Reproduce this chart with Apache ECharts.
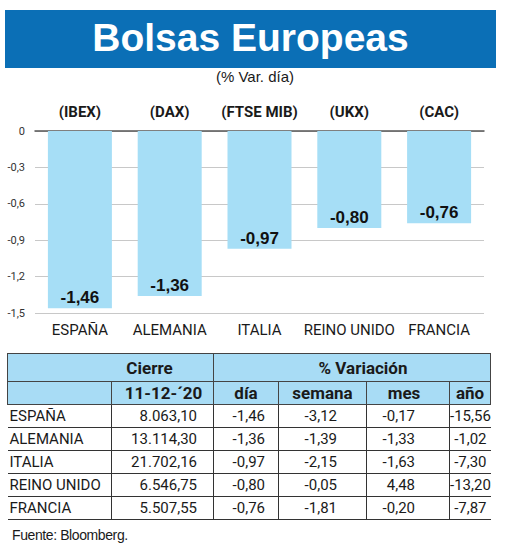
<!DOCTYPE html>
<html><head><meta charset="utf-8">
<script src="https://cdn.jsdelivr.net/npm/echarts@6/dist/echarts.min.js"></script>
<style>
body{margin:0;background:#fff;width:520px;height:547px;overflow:hidden;position:relative;font-family:'Liberation Sans',Arial,sans-serif;color:#1a1a1a;}
#banner{position:absolute;left:5px;top:10px;width:491px;height:58px;background:#0b6fb6;color:#fff;font-weight:bold;font-size:39px;text-align:center;line-height:56px;}
#sub{position:absolute;left:155px;width:200px;top:68px;text-align:center;font-size:15px;line-height:18px;}
#chart{position:absolute;left:0;top:0;width:520px;height:345px;}
#tbl{position:absolute;left:7px;top:353px;border-collapse:collapse;table-layout:fixed;width:483px;font-family:Roboto,sans-serif;}
#tbl th{background:#a8dcf5;border:1px solid #444;font-weight:bold;font-size:17px;padding:0;overflow:hidden;white-space:nowrap;}
#tbl tr.h1 th{height:27px;}
#tbl tr.h2 th{height:22px;}
#tbl td{font-size:15px;height:22px;padding:0;border-bottom:1px solid #333;border-left:1px solid #333;text-align:right;white-space:nowrap;overflow:hidden;}
#tbl td:first-child{border-left:none;text-align:left;padding-left:2px;}
#src{position:absolute;left:12px;top:527px;font-size:14px;letter-spacing:-0.4px;}
</style>
</head><body>
<div id="chart"></div>
<div id="banner">Bolsas Europeas</div>
<div id="sub">(% Var. día)</div>
<table id="tbl">
<colgroup><col style="width:104px"><col style="width:102px"><col style="width:65px"><col style="width:88px"><col style="width:83px"><col style="width:41px"></colgroup>
<thead>
<tr class="h1"><th colspan="2" id="hCierre" style="padding-left:78px">Cierre</th><th colspan="4" id="hVar" style="padding-left:22px">% Variación</th></tr>
<tr class="h2" id="h2row"></tr>
</thead>
<tbody id="tbody"></tbody>
</table>
<div id="src">Fuente: Bloomberg.</div>
<script>
const countries = ['ESPAÑA', 'ALEMANIA', 'ITALIA', 'REINO UNIDO', 'FRANCIA'];
const tickers = ['(IBEX)', '(DAX)', '(FTSE MIB)', '(UKX)', '(CAC)'];
const dayChange = [-1.46, -1.36, -0.97, -0.80, -0.76];
const yMin = -1.5, yMax = 0, yInterval = 0.3;
const closeDate = '11-12-´20';
const tableHeaders = ['día', 'semana', 'mes', 'año'];
const closeValues = ['8.063,10', '13.114,30', '21.702,16', '6.546,75', '5.507,55'];
const weekChange = [-3.12, -1.39, -2.15, -0.05, -1.81];
const monthChange = [-0.17, -1.33, -1.63, 4.48, -0.20];
const yearChange = [-15.56, -1.02, -7.30, -13.20, -7.87];

const COND = "Roboto,sans-serif";
const fmt2 = v => v.toFixed(2).replace('.', ',');
const fmtAxis = v => (Math.abs(v) < 1e-9 ? '0' : v.toFixed(1).replace('.', ','));

// table
const h2 = document.getElementById('h2row');
const padR = [16, 13, 29, 34, 4];
let hh = '<th></th><th style="padding-left:2px">' + closeDate + '</th>';
tableHeaders.forEach((t, i) => { hh += '<th' + (i === 2 ? ' style="padding-right:8px"' : '') + '>' + t + '</th>'; });
h2.innerHTML = hh;
const tb = document.getElementById('tbody');
countries.forEach((c, i) => {
  const cells = [closeValues[i], fmt2(dayChange[i]), fmt2(weekChange[i]), fmt2(monthChange[i]), fmt2(yearChange[i])];
  let row = '<tr><td>' + c + '</td>';
  cells.forEach((v, j) => {
    row += '<td style="padding-right:' + padR[j] + 'px' + (j === 4 ? ';border-right:none' : '') + '">' + v + '</td>';
  });
  tb.insertAdjacentHTML('beforeend', row + '</tr>');
});

// chart
const chart = echarts.init(document.getElementById('chart'), null, { renderer: 'svg' });
chart.setOption({
  animation: false,
  grid: { left: 35, right: 36, top: 131, bottom: 32 },
  xAxis: [
    {
      type: 'category', data: countries, position: 'bottom',
      axisLine: { show: false }, axisTick: { show: false },
      axisLabel: { interval: 0, fontFamily: COND, fontSize: 15, color: '#1a1a1a', margin: 9 }
    },
    {
      type: 'category', data: tickers, position: 'top',
      axisLine: { show: true, onZero: false, lineStyle: { color: '#555', width: 1.5 } },
      axisTick: { show: false },
      axisLabel: { interval: 0, fontFamily: COND, fontWeight: 'bold', fontSize: 15, color: '#1a1a1a', margin: 12 }
    }
  ],
  yAxis: {
    type: 'value', min: yMin, max: yMax, interval: yInterval,
    axisLine: { show: false }, axisTick: { show: false },
    splitLine: { lineStyle: { color: '#c8c8c8', width: 1 } },
    axisLabel: { formatter: fmtAxis, fontFamily: COND, fontSize: 11, color: '#333', margin: 10 }
  },
  series: [{
    type: 'bar', data: dayChange, barWidth: 64, xAxisIndex: 0,
    itemStyle: { color: '#a6def6' },
    label: {
      show: true, position: 'insideBottom', distance: 2,
      formatter: p => fmt2(p.value),
      fontFamily: "'Liberation Sans',Arial,sans-serif", fontWeight: 'bold', fontSize: 17, color: '#111'
    }
  }]
});
</script>
</body></html>
